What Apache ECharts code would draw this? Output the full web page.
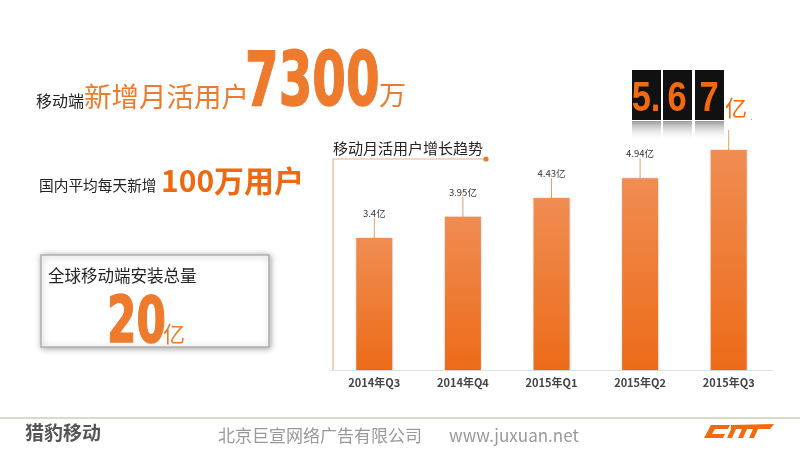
<!DOCTYPE html>
<html><head><meta charset="utf-8">
<script src="https://cdn.jsdelivr.net/npm/echarts@6/dist/echarts.min.js"></script>
<style>html,body{margin:0;padding:0;background:#fff}#c{width:800px;height:450px}</style>
</head><body><div id="c"></div>
<script>
var categories = ['2014年Q3','2014年Q4','2015年Q1','2015年Q2','2015年Q3'];
var values = [3.4, 3.95, 4.43, 4.94, 5.67];
var valueLabels = ['3.4亿','3.95亿','4.43亿','4.94亿',''];
var chartTitle = '移动月活用户增长趋势';

var CJK = '"Noto Sans CJK SC", sans-serif';
var ORANGE = '#ee7a2e';
var chart = echarts.init(document.getElementById('c'));

function txt(x, y, s, size, color, weight, extra) {
  var o = {type:'text', x:x, y:y, style:{text:s, fontSize:size, fill:color, fontWeight:weight||'normal', fontFamily:CJK, textVerticalAlign:'middle'}};
  if (extra) for (var k in extra) o[k] = extra[k];
  return o;
}
function bigNum(x, y, s, size, sx, color) {
  return {type:'text', x:x, y:y, scaleX:sx, style:{text:s, fontSize:size, fill:color, stroke:color, lineWidth:1.5, fontWeight:'bold', fontFamily:'"DejaVu Sans", sans-serif', textVerticalAlign:'middle'}};
}
function flip(x, s) {
  return {type:'text', x:x, y:99, scaleX:0.82, style:{text:s, fontSize:42, fill:'#f26a10', fontWeight:'bold', fontFamily:'"Liberation Sans", sans-serif', textAlign:'center', textVerticalAlign:'middle'}};
}
var refl = function(){ return new echarts.graphic.LinearGradient(0,0,0,1,[{offset:0,color:'#9a9a9a'},{offset:1,color:'rgba(255,255,255,0)'}]); };

var graphics = [
  // headline
  txt(36, 101, '移动端', 16, '#222'),
  txt(84, 97, '新增月活用户', 27.5, ORANGE),
  bigNum(245, 86, '7300', 75, 0.645, ORANGE),
  txt(379, 95, '万', 27, ORANGE),
  // daily
  txt(39, 185, '国内平均每天新增', 14.7, '#222'),
  txt(161, 181, '100万用户', 30, '#ee6a12', 'bold'),
  // box
  {type:'rect', shape:{x:41, y:255, width:228, height:92}, style:{fill:'#fff', stroke:'#b0b0b0', lineWidth:1.5, shadowBlur:6, shadowColor:'rgba(0,0,0,0.35)', shadowOffsetX:1, shadowOffsetY:1}},
  txt(48, 276, '全球移动端安装总量', 16.5, '#222'),
  bigNum(107, 325, '20', 64, 0.66, ORANGE),
  txt(163, 334, '亿', 22, ORANGE),
  // chart title & frame
  txt(333, 148, chartTitle, 15, '#222'),
  {type:'polyline', shape:{points:[[333,370],[333,159],[486,159]]}, style:{stroke:'#e8b48a', lineWidth:1.2, fill:null}},
  {type:'circle', shape:{cx:486, cy:159, r:2.6}, style:{fill:ORANGE}},
  // flip digits
  {type:'rect', shape:{x:632, y:70, width:29, height:50}, style:{fill:'#111'}},
  {type:'rect', shape:{x:663, y:70, width:29, height:50}, style:{fill:'#111'}},
  {type:'rect', shape:{x:695, y:70, width:29, height:50}, style:{fill:'#111'}},
  {type:'rect', shape:{x:632, y:121, width:29, height:20}, style:{fill:refl()}},
  {type:'rect', shape:{x:663, y:121, width:29, height:20}, style:{fill:refl()}},
  {type:'rect', shape:{x:695, y:121, width:29, height:20}, style:{fill:refl()}},
  flip(646, '5.'), flip(677, '6'), flip(709, '7'),
  txt(725, 108, '亿', 22, '#f26a10'),
  txt(750, 116, '.', 10, '#999'),
  // footer
  {type:'line', shape:{x1:0, y1:418, x2:800, y2:418}, style:{stroke:'#ddd8c8', lineWidth:2}},
  txt(25, 433, '猎豹移动', 19, '#555', 'bold'),
  txt(218, 436, '北京巨宣网络广告有限公司', 17, '#999'),
  txt(449, 436, 'www.juxuan.net', 17, '#999'),
  // logo
  {type:'polygon', shape:{points:[[711,425],[730,425],[728,429],[715,429],[712,434],[725,434],[723,438],[704,438]]}, style:{fill:'#f26a10'}},
  {type:'polygon', shape:{points:[[731,425],[774,424],[770,429],[731,429]]}, style:{fill:'#f26a10'}},
  {type:'polygon', shape:{points:[[731,429],[736,429],[732,438],[727,438]]}, style:{fill:'#f26a10'}},
  {type:'polygon', shape:{points:[[742,429],[747,429],[743,438],[738,438]]}, style:{fill:'#f26a10'}},
  {type:'polygon', shape:{points:[[753,429],[758,429],[754,438],[749,438]]}, style:{fill:'#f26a10'}}
];

chart.setOption({
  animation:false,
  backgroundColor:'#fff',
  grid:{left:330, top:150, width:443, height:220, containLabel:false},
  xAxis:{type:'category', data:categories,
    axisLine:{lineStyle:{color:'#e2e2e2'}}, axisTick:{show:false},
    axisLabel:{color:'#444', fontSize:11, fontWeight:'bold', fontFamily:CJK, margin:7}},
  yAxis:{type:'value', min:0, max:5.67, show:false, splitLine:{show:false}},
  series:[{
    type:'bar', data:values, barWidth:36,
    itemStyle:{color:new echarts.graphic.LinearGradient(0,0,0,1,[{offset:0,color:'#f08d52'},{offset:1,color:'#ec6b18'}]),
      shadowBlur:2, shadowColor:'rgba(0,0,0,0.2)'},
    label:{show:true, position:'top', distance:2, fontSize:9.5, color:'#333', fontFamily:CJK,
      formatter:function(p){return valueLabels[p.dataIndex];}},
    labelLayout:{dy:-18},
    labelLine:{show:true, length2:0, lineStyle:{color:'#e0a070', width:1}}
  }],
  graphic:graphics
});
</script></body></html>
